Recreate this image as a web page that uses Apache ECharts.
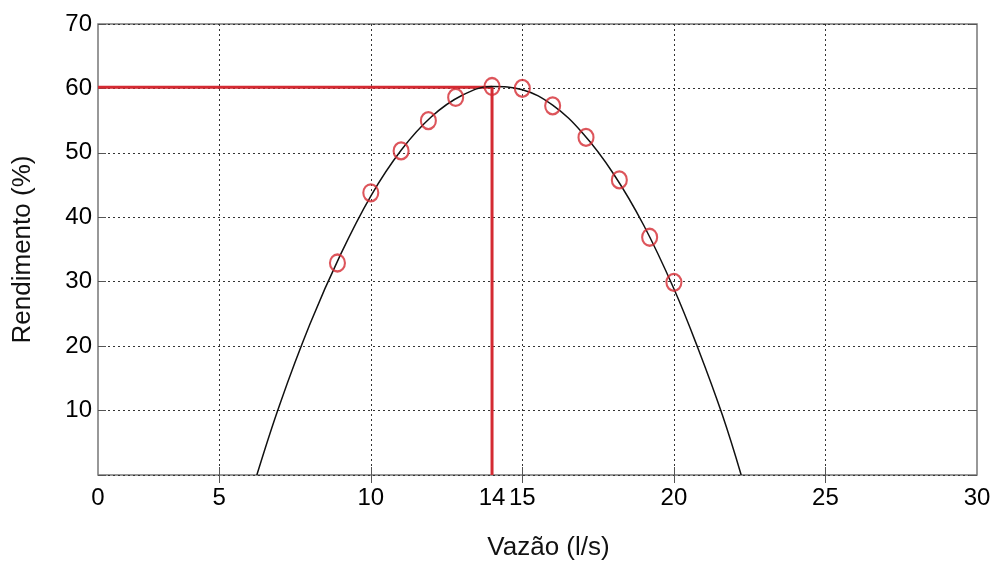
<!DOCTYPE html>
<html>
<head>
<meta charset="utf-8">
<style>
  html, body { margin: 0; padding: 0; background: #fff; }
  #chart { width: 993px; height: 561px; }
</style>
<script src="https://cdn.jsdelivr.net/npm/echarts@6/dist/echarts.min.js"></script>
</head>
<body>
<div id="chart"></div>
<script>
// measured points (vazão l/s, rendimento %)
var pontosX = [8.9, 10, 11, 11.9, 12.8, 14, 15, 16, 17.1, 18.2, 19.2, 20];
var pontosY = [32.9, 43.8, 50.3, 55, 58.6, 60.3, 60, 57.3, 52.4, 45.8, 36.9, 29.9];

// fitted curve
var curvaX = [6.24, 7, 8, 9, 10, 11, 12, 13, 14, 15, 16, 17, 18, 19, 20, 20.8, 21.6, 22.22];
var curvaY = [0, 11, 23.5, 34.2, 43.3, 50.4, 55.6, 58.9, 60.3, 59.8, 57.4, 53.0, 46.8, 38.8, 28.9, 19.6, 9.3, 0];

// best efficiency point
var otimoX = 14;
var otimoY = 60.2;

var xLabels = [1, 5, 10, 14, 15, 20, 25, 30];
var xGrid = [5, 10, 15, 20, 25];

var chart = echarts.init(document.getElementById('chart'));

function zip(a, b) {
  return a.map(function (v, i) { return [v, b[i]]; });
}

var dotted = { color: '#333', width: 1, type: [2, 3] };
var font = 'Liberation Sans, Arial, sans-serif';

var option = {
  animation: false,
  backgroundColor: '#fff',
  textStyle: { fontFamily: font },
  grid: {
    left: 98, right: 16, top: 24, bottom: 86,
    outerBoundsMode: 'none',
    containLabel: false,
    show: true, borderColor: '#777', borderWidth: 1.5
  },
  xAxis: [{
    type: 'value',
    min: 1,
    max: 30,
    name: 'Vazão (l/s)',
    nameLocation: 'middle',
    nameGap: 60,
    nameTextStyle: { fontSize: 26, color: '#111', fontFamily: font, padding: [0, 0, 0, 22] },
    axisLine: { show: false },
    axisTick: { show: true, inside: true, length: 8, customValues: xGrid, lineStyle: { color: '#555' } },
    axisLabel: {
      customValues: xLabels,
      fontSize: 24, color: '#000', margin: 11, fontFamily: font,
      formatter: function (v) { return v === 1 ? '0' : String(v); }
    },
    splitLine: { show: true, lineStyle: dotted }
  }, {
    type: 'value',
    min: 1,
    max: 30,
    position: 'top',
    axisLine: { show: false },
    axisTick: { show: true, inside: true, length: 8, customValues: xGrid, lineStyle: { color: '#555' } },
    axisLabel: { show: false },
    splitLine: { show: false }
  }],
  yAxis: [{
    type: 'value',
    min: 0,
    max: 70,
    interval: 10,
    name: 'Rendimento (%)',
    nameLocation: 'middle',
    nameGap: 62,
    nameRotate: 90,
    nameTextStyle: { fontSize: 26, color: '#111', fontFamily: font },
    axisLine: { show: false },
    axisTick: { show: true, inside: true, length: 8, lineStyle: { color: '#555' } },
    axisLabel: {
      fontSize: 24, color: '#000', margin: 6, fontFamily: font,
      formatter: function (v) { return v === 0 ? '' : String(v); }
    },
    splitLine: { show: true, lineStyle: dotted }
  }, {
    type: 'value',
    min: 0,
    max: 70,
    interval: 10,
    position: 'right',
    axisLine: { show: false },
    axisTick: { show: true, inside: true, length: 8, lineStyle: { color: '#555' } },
    axisLabel: { show: false },
    splitLine: { show: false }
  }],
  series: [{
    name: 'curva',
    type: 'line',
    data: zip(curvaX, curvaY),
    smooth: 0.4,
    symbol: 'none',
    lineStyle: { color: '#111', width: 1.5 },
    z: 3
  }, {
    name: 'otimo',
    type: 'line',
    data: [[1, otimoY], [otimoX, otimoY], [otimoX, 0]],
    symbol: 'none',
    lineStyle: { color: '#d42a32', width: 3 },
    z: 2
  }, {
    name: 'pontos',
    type: 'scatter',
    data: zip(pontosX, pontosY),
    symbol: 'circle',
    symbolSize: [15, 17],
    itemStyle: { color: 'rgba(0,0,0,0)', borderColor: '#d42a32', borderWidth: 2.2 },
    z: 4
  }]
};

chart.setOption(option);
</script>
</body>
</html>
